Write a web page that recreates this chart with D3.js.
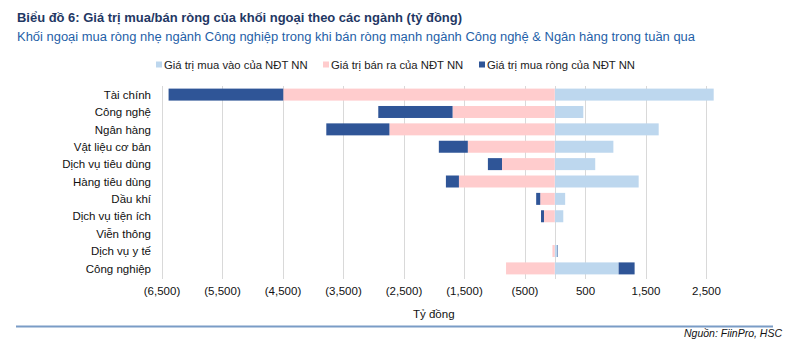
<!DOCTYPE html>
<html><head><meta charset="utf-8">
<script src="https://cdn.jsdelivr.net/npm/d3@7"></script>
<style>
body{margin:0;background:#fff;}
svg{display:block;font-family:"Liberation Sans",Arial,sans-serif;}
</style></head>
<body>
<svg id="c" width="800" height="354"></svg>
<script>
const categories = ["Tài chính","Công nghệ","Ngân hàng","Vật liệu cơ bản","Dịch vụ tiêu dùng","Hàng tiêu dùng","Dầu khí","Dịch vụ tiện ích","Viễn thông","Dịch vụ y tế","Công nghiệp"];
const buyValues  = [2627, 472, 1718, 969, 669, 1387, 172, 141, 0, 44, 1056];
const sellValues = [-4487, -1689, -2733, -1437, -872, -1584, -240, -178, 0, -38, -805];
const netValues  = [-1896, -1228, -1043, -479, -233, -215, -67, -49, 0, 8, 264];
const tickValues = [-6500,-5500,-4500,-3500,-2500,-1500,-500,500,1500,2500];
const seriesNames = ["Giá trị mua vào của NĐT NN","Giá trị bán ra của NĐT NN","Giá trị mua ròng của NĐT NN"];
const colors = ["#bdd7ee","#ffcccd","#2f5597"];

const svg = d3.select("#c");
const x = d3.scaleLinear().domain([-6500, 2500]).range([161.5, 706]);
const y = d3.scaleBand().domain(categories).range([86, 277]).paddingInner(0.31).paddingOuter(0.15);

// Title
svg.append("text").attr("x",17).attr("y",22).attr("fill","#1f3864").attr("font-weight","bold")
  .attr("font-size",12).attr("textLength",445).attr("lengthAdjust","spacingAndGlyphs")
  .text("Biểu đồ 6: Giá trị mua/bán ròng của khối ngoại theo các ngành (tỷ đồng)");
svg.append("text").attr("x",17).attr("y",41).attr("fill","#1f5fa8")
  .attr("font-size",12).attr("textLength",678).attr("lengthAdjust","spacingAndGlyphs")
  .text("Khối ngoại mua ròng nhẹ ngành Công nghiệp trong khi bán ròng mạnh ngành Công nghệ & Ngân hàng trong tuần qua");

// Legend
const legX = [156, 323, 479];
seriesNames.forEach((n,i)=>{
  svg.append("rect").attr("x",legX[i]).attr("y",61.5).attr("width",6).attr("height",6).attr("fill",colors[i]);
  svg.append("text").attr("x",legX[i]+8).attr("y",69).attr("font-size",11.3).attr("fill","#222").text(n);
});

// Gridlines
const grid = tickValues.concat([0]);
svg.append("g").selectAll("line").data(grid).join("line")
  .attr("x1",d=>Math.round(x(d))+0.5).attr("x2",d=>Math.round(x(d))+0.5)
  .attr("y1",86).attr("y2",279).attr("stroke","#d9d9d9").attr("stroke-width",1);

// Bars
const g = svg.append("g");
categories.forEach((c,i)=>{
  const b = buyValues[i], s = sellValues[i], n = netValues[i];
  const yy = y(c), h = y.bandwidth();
  g.append("rect").attr("x",x(0)).attr("y",yy).attr("width",x(b)-x(0)).attr("height",h).attr("fill",colors[0]);
  g.append("rect").attr("x",x(s)).attr("y",yy).attr("width",x(0)-x(s)).attr("height",h).attr("fill",colors[1]);
  if (n < 0) {
    g.append("rect").attr("x",x(s+n)).attr("y",yy).attr("width",x(s)-x(s+n)).attr("height",h).attr("fill",colors[2]);
  } else if (n > 0) {
    g.append("rect").attr("x",x(b)).attr("y",yy).attr("width",x(b+n)-x(b)).attr("height",h).attr("fill",colors[2]);
  }
});

// Y labels
svg.append("g").selectAll("text").data(categories).join("text")
  .attr("x",151).attr("y",d=>y(d)+y.bandwidth()/2).attr("dy","0.36em")
  .attr("text-anchor","end").attr("font-size",11.5).attr("fill","#111").text(d=>d);

// X axis labels
const fmt = d3.format(",");
const ax = svg.append("g").attr("transform","translate(0,279)")
  .call(d3.axisBottom(x).tickValues(tickValues).tickSize(0).tickPadding(8)
    .tickFormat(d=> d<0 ? "("+fmt(-d)+")" : fmt(d)));
ax.select(".domain").remove();
ax.selectAll("text").attr("font-size",11.5).attr("fill","#111").attr("font-family","Liberation Sans, Arial, sans-serif");

svg.append("text").attr("x",(x(-6500)+x(2500))/2).attr("y",318).attr("text-anchor","middle")
  .attr("font-size",11.5).attr("fill","#111").text("Tỷ đồng");

// Separator and source
svg.append("line").attr("x1",16).attr("x2",773).attr("y1",326.5).attr("y2",326.5)
  .attr("stroke","#7a9cc6").attr("stroke-width",2);
svg.append("text").attr("x",782).attr("y",337).attr("text-anchor","end").attr("font-style","italic")
  .attr("font-size",10.5).attr("fill","#111").text("Nguồn: FiinPro, HSC");
</script>
</body></html>
